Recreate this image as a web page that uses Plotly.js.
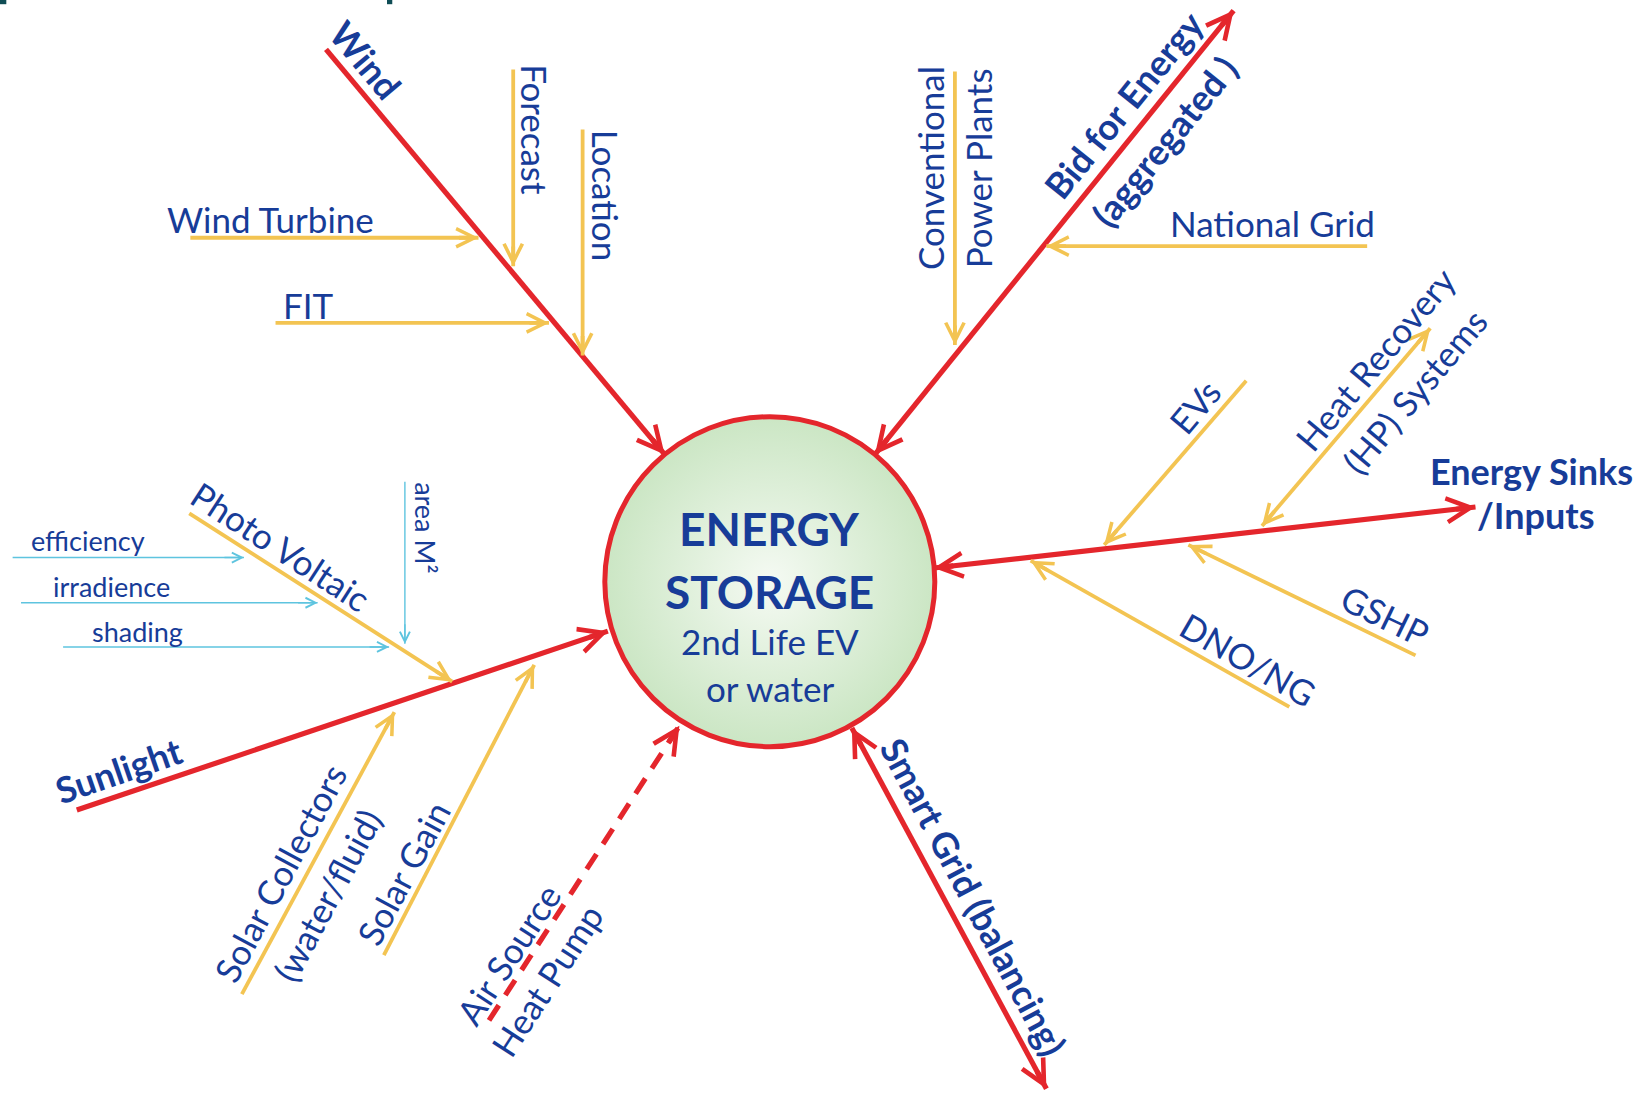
<!DOCTYPE html>
<html><head><meta charset="utf-8">
<script src="https://cdn.plot.ly/plotly-3.0.1.min.js"></script>
<style>html,body{margin:0;padding:0;background:#fff;}#chart{width:1649px;height:1094px;}</style>
</head><body><div id="chart"></div>
<script>
// ---------- DATA (diagram coordinates) ----------
const linkNames = ['Wind','Wind Turbine','FIT','Forecast','Location','Conventional Power Plants',
  'Bid for Energy','National Grid','EVs','Heat Recovery','Energy Sinks','GSHP','DNO/NG',
  'Smart Grid','Air Source Heat Pump','Solar Gain','Solar Collectors','Sunlight','Photo Voltaic',
  'efficiency','irradience','shading','area M2'];
const linkX0 = [310,181,262,488,554,908, 832,1300,1185,1200, 888,1346,1226, 810,465,365,230, 73,180, 12, 20, 60,385];
const linkY0 = [ 47,226,307, 66,123, 68, 432, 234, 362, 500, 540, 623, 672, 692,970,908,945,770,488,530,573,615,458];
const linkX1 = [632,455,522,488,554,908,1173, 995,1050,1360,1403,1130, 980, 995,646,508,375,578,430,232,302,370,385];
const linkY1 = [432,226,307,253,338,328,  10, 234, 518, 312, 482, 518, 533,1035,690,632,677,600,648,530,573,615,612];
const linkKind = ['main','feed','feed','feed','feed','feed','main','feed','feed','feed','main','feed','feed',
  'main','main','feed','feed','main','feed','minor','minor','minor','minor'];
const linkHeads = ['end','end','end','end','end','end','both','end','end','both','both','end','end',
  'both','end','end','end','end','end','end','end','end','end'];
const linkDashed = [false,false,false,false,false,false,false,false,false,false,false,false,false,
  false,true,false,false,false,false,false,false,false,false];

const labelText = ['Wind','Wind Turbine','FIT','Forecast','Location','Conventional','Power Plants',
  'Bid for Energy','(aggregated )','National Grid','EVs','Heat Recovery','(HP) Systems',
  'Energy Sinks','/Inputs','GSHP','DNO/NG','Smart Grid (balancing)','Air Source','Heat Pump',
  'Solar Gain','Solar Collectors','(water/fluid)','Sunlight','Photo Voltaic',
  'efficiency','irradience','shading','area M²'];
const labelX = [348,257,293,508,577,885,930,1068,1107,1210,1136,1307,1345,1456,1460,1317,1187,926,483,520,383,266,311,113,267, 84,106,131,405];
const labelY = [ 57,208,290,123,186,160,160, 100, 134, 212, 386, 341, 372, 448, 490, 585, 626,853,907,932,830,830,851,732,519,514,558,600,502];
const labelAngle = [50,0,0,90,90,-90,-90,-51,-51,0,-50,-50,-50,0,0,26,30,62,-57,-57,-62,-62,-62,-19,33,0,0,0,90];
const labelKind = ['bold','norm','norm','norm','norm','norm','norm','bold','bold','norm','norm','norm','norm',
  'bold','bold','norm','norm','bold','norm','norm','norm','norm','norm','bold','norm','small','small','small','small'];

const hubX = [732];
const hubY = [553];
const hubText = ['ENERGY','STORAGE','2nd Life EV','or water'];
const hubTextY = [502,562,609,654];
const hubTextKind = ['hubBold','hubBold','hubNorm','hubNorm'];

const markX0 = [0,368];
const markX1 = [6,373];

// ---------- STYLES ----------
const RED = '#e4262c', YEL = '#f3c452', BLU = '#5ec4df', TXT = '#173c98';
const kindStyle = {
  main:  {color: RED, width: 5.2, head: 0.9},
  feed:  {color: YEL, width: 3.8, head: 0.95},
  minor: {color: BLU, width: 1.4, head: 1.4}
};
const fontStyle = {
  bold:  {family: 'Lato, sans-serif', size: 36, weight: 'bold'},
  norm:  {family: 'Lato, sans-serif', size: 35, weight: 'normal'},
  small: {family: 'Lato, sans-serif', size: 27, weight: 'normal'},
  hubBold: {family: 'Lato, sans-serif', size: 46, weight: 'bold'},
  hubNorm: {family: 'Lato, sans-serif', size: 35, weight: 'normal'}
};

const traces = [];
const annotations = [];

// hub circle (radial gradient: gradient.color is the centre colour)
traces.push({
  type: 'scatter', mode: 'markers', x: hubX, y: hubY, hoverinfo: 'skip',
  marker: {symbol: 'circle', size: 330, color: '#cbe6c4',
    gradient: {type: 'radial', color: '#f5faf3'},
    line: {color: RED, width: 5}}
});

function addHead(hx, hy, fx, fy, st) {
  const dx = hx - fx, dy = hy - fy, L = Math.hypot(dx, dy);
  const tx = hx - dx / L * 20, ty = hy - dy / L * 20;
  annotations.push({
    x: hx, y: hy, ax: tx, ay: ty, xref: 'x', yref: 'y', axref: 'x', ayref: 'y',
    text: '', showarrow: true, arrowhead: 5, arrowsize: st.head, arrowwidth: st.width,
    arrowcolor: st.color, standoff: 0, startstandoff: 0
  });
}

linkNames.forEach((n, i) => {
  const st = kindStyle[linkKind[i]];
  traces.push({
    type: 'scatter', mode: 'lines', name: n, hoverinfo: 'skip',
    x: [linkX0[i], linkX1[i]], y: [linkY0[i], linkY1[i]],
    line: {color: st.color, width: st.width, dash: linkDashed[i] ? '18px,12px' : 'solid'}
  });
  addHead(linkX1[i], linkY1[i], linkX0[i], linkY0[i], st);
  if (linkHeads[i] === 'both') addHead(linkX0[i], linkY0[i], linkX1[i], linkY1[i], st);
});

labelText.forEach((t, i) => {
  const f = fontStyle[labelKind[i]];
  annotations.push({
    x: labelX[i], y: labelY[i], xref: 'x', yref: 'y', text: t, showarrow: false,
    textangle: labelAngle[i], xanchor: 'center', yanchor: 'middle',
    font: {family: f.family, size: f.size, weight: f.weight, color: TXT}
  });
});

hubText.forEach((t, i) => {
  const f = fontStyle[hubTextKind[i]];
  annotations.push({
    x: hubX[0], y: hubTextY[i], xref: 'x', yref: 'y', text: t, showarrow: false,
    xanchor: 'center', yanchor: 'middle',
    font: {family: f.family, size: f.size, weight: f.weight, color: TXT}
  });
});

const shapes = markX0.map((x0, i) => ({
  type: 'rect', xref: 'x', yref: 'y', x0: x0, x1: markX1[i], y0: 0, y1: 4,
  fillcolor: '#0f4d55', line: {width: 0}
}));

const layout = {
  width: 1649, height: 1094,
  margin: {l: 0, r: 0, t: 0, b: 0},
  paper_bgcolor: '#ffffff', plot_bgcolor: '#ffffff',
  showlegend: false,
  xaxis: {range: [0, 1568], visible: false, fixedrange: true},
  yaxis: {range: [1040, 0], visible: false, fixedrange: true},
  annotations: annotations,
  shapes: shapes
};

Plotly.newPlot('chart', traces, layout, {displayModeBar: false, staticPlot: true});
</script>
</body></html>
